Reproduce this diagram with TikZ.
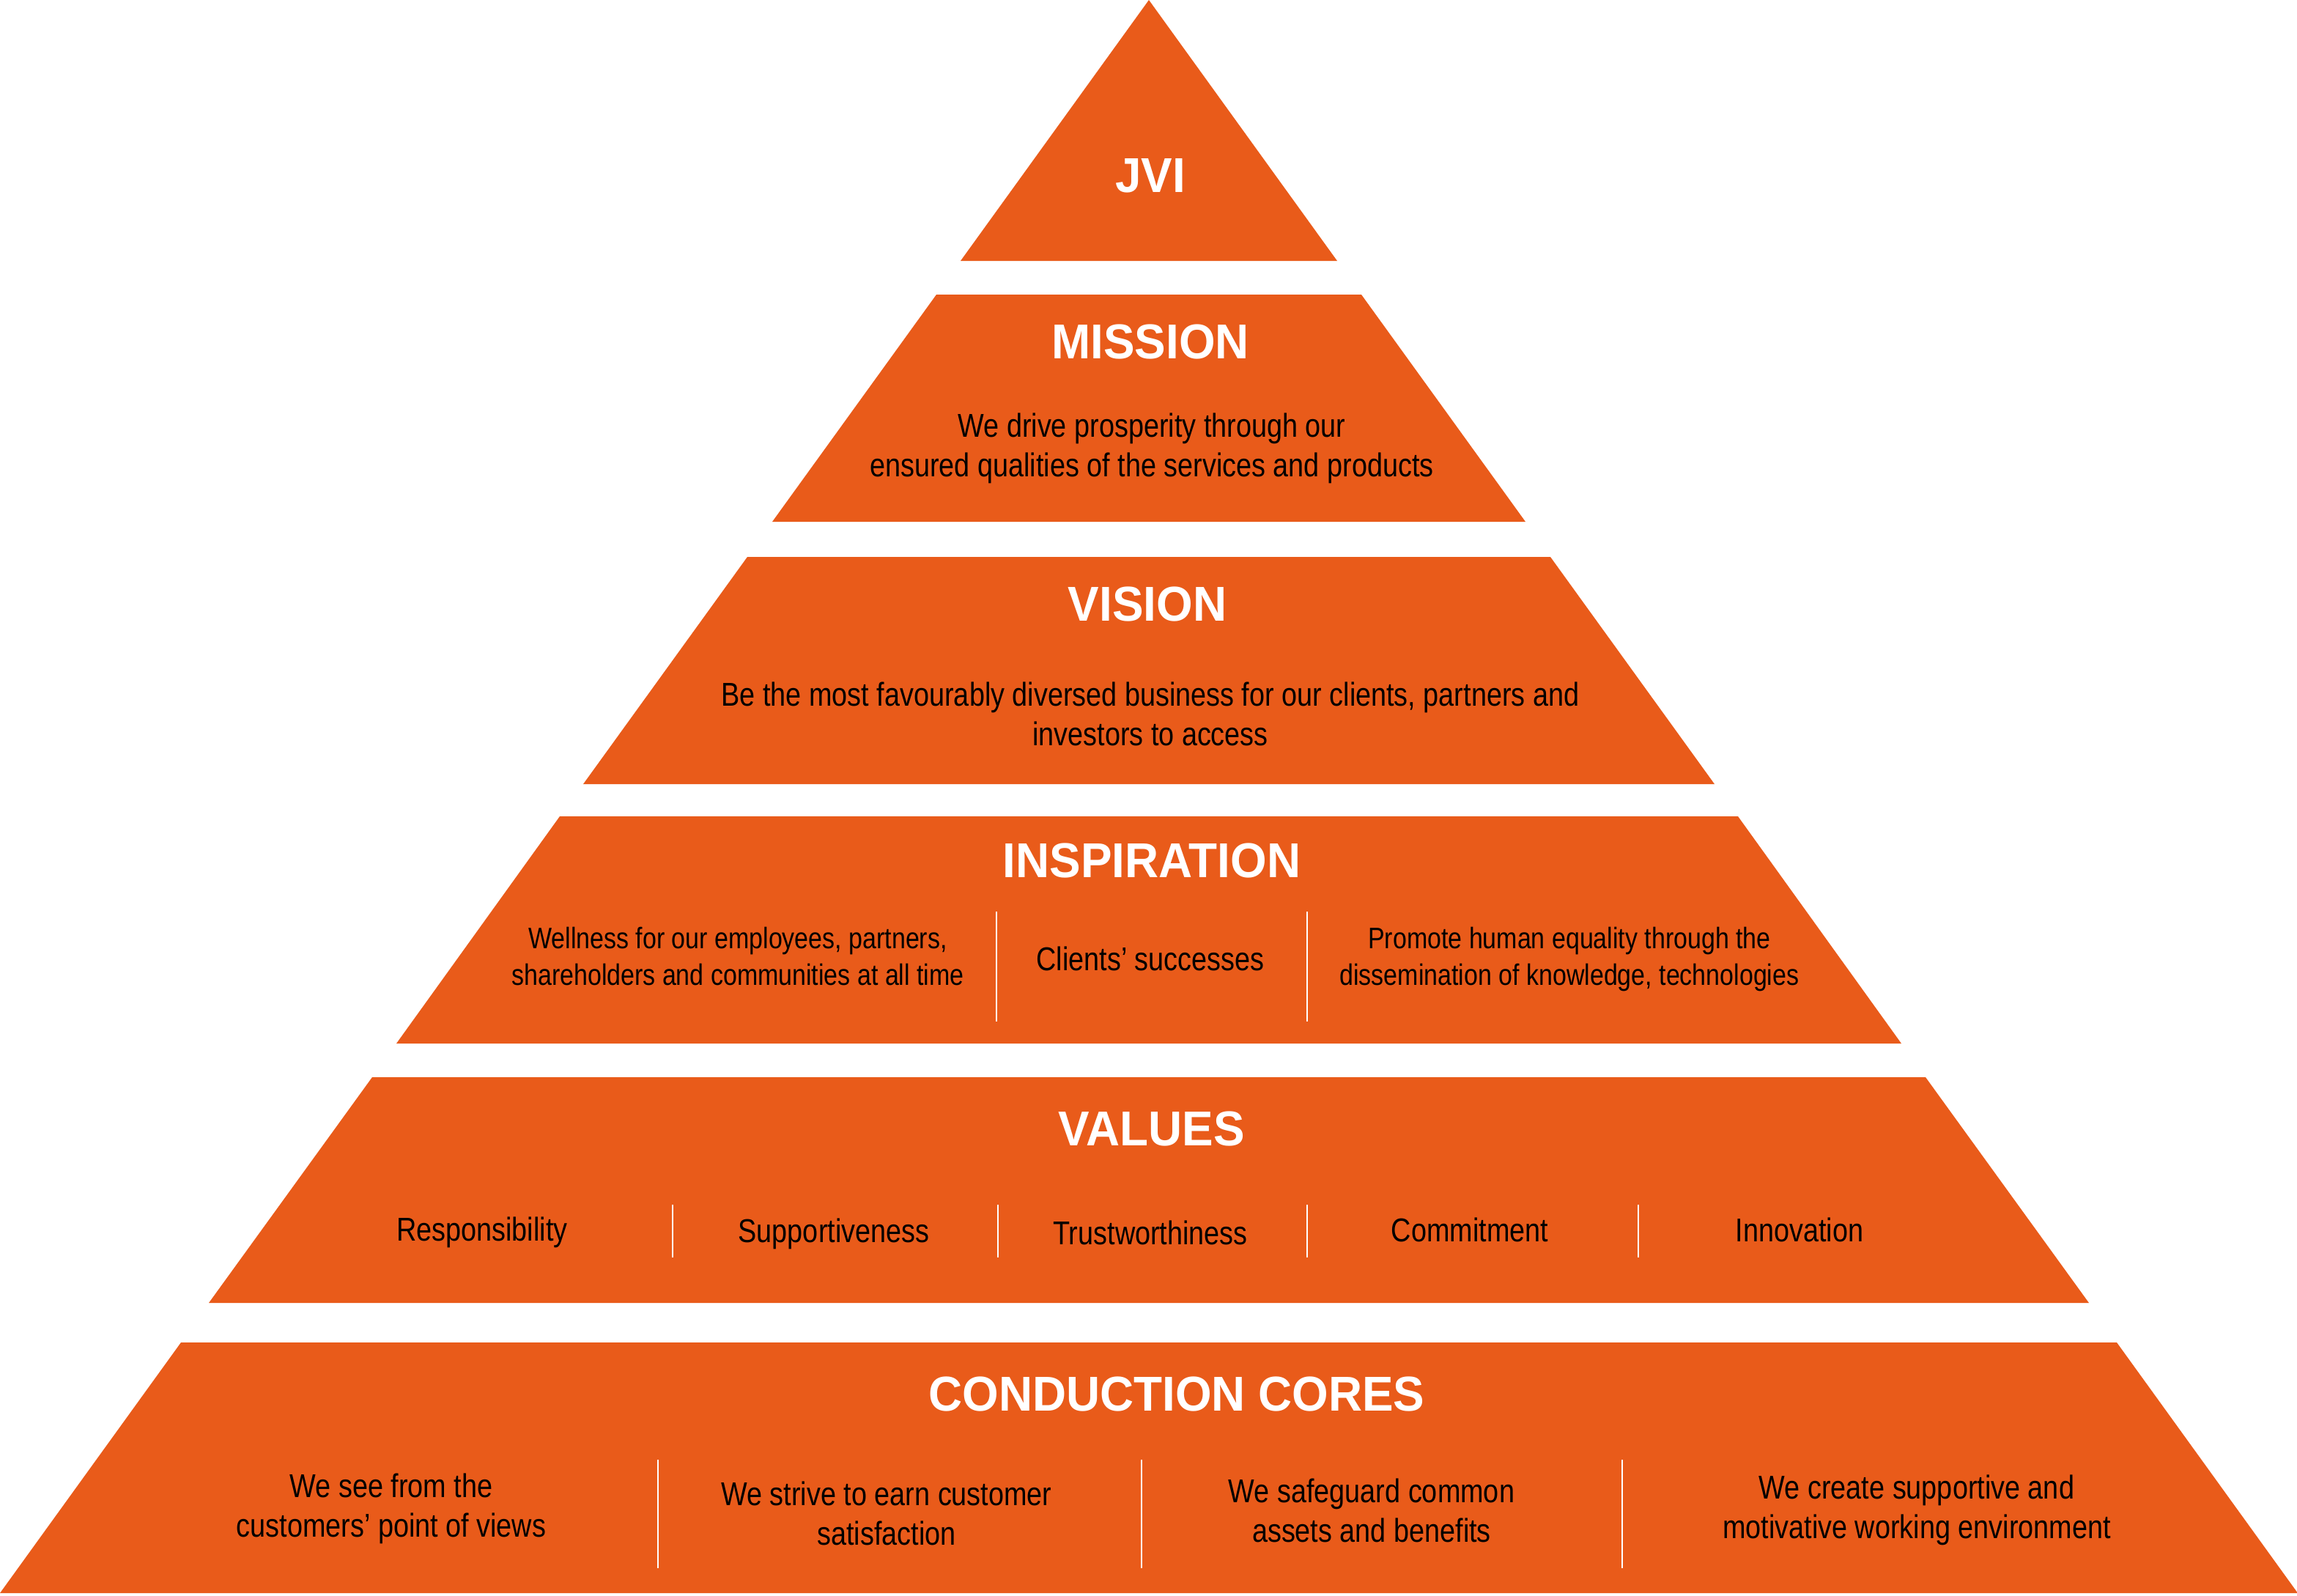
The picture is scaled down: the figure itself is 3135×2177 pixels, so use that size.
\documentclass[tikz,border=0pt]{standalone}
\usepackage{fontspec}
\setmainfont{Liberation Sans}
\newfontfamily\bodyfont{Liberation Sans}[FakeStretch=0.84]
\newfontfamily\headfont{Liberation Sans}[FakeStretch=0.955]
\usepackage{tikz}
\usepackage{xcolor}
\definecolor{pyrorange}{RGB}{233,91,26}
\tikzset{
  layer/.style={fill=pyrorange,draw=none},
  title/.style={font=\headfont\bfseries\fontsize{19}{23}\selectfont,text=white,inner sep=0pt},
  body/.style={font=\bodyfont\fontsize{12.8}{15.4}\selectfont,align=center,inner sep=0pt,text=black},
  smallbody/.style={body,font=\bodyfont\fontsize{11.5}{14.2}\selectfont},
  divider/.style={draw=white,line width=0.6pt}
}

\begin{document}
\begin{tikzpicture}[x=0.01cm,y=-0.01cm]
  \useasboundingbox (0,0) rectangle (3135,2177);

  % --- Pyramid layers (slices of one triangle) ---
  \fill[layer] (1568,0) -- (1825,356) -- (1311,356) -- cycle;
  \fill[layer] (1278,402) -- (1858,402) -- (2082,712) -- (1054,712) -- cycle;
  \fill[layer] (1020,760) -- (2116,760) -- (2340,1070) -- (796,1070) -- cycle;
  \fill[layer] (764,1114) -- (2372,1114) -- (2595,1424) -- (541,1424) -- cycle;
  \fill[layer] (508,1470) -- (2628,1470) -- (2851,1778) -- (285,1778) -- cycle;
  \fill[layer] (247,1832) -- (2889,1832) -- (3136,2174) -- (0,2174) -- cycle;

  % --- Titles ---
  \node[title] (jvi)     at (1570,240)  {JVI};
  \node[title] (mission) at (1570,466)  {MISSION};
  \node[title] (vision)  at (1566,824)  {VISION};
  \node[title] (inspire) at (1572,1174) {INSPIRATION};
  \node[title] (values)  at (1572,1540) {VALUES};
  \node[title] (cores)   at (1606,1902) {CONDUCTION CORES};

  % --- Mission and vision ---
  \node[body] (missiontxt) at (1572,612) {We drive prosperity through our\\ensured qualities of the services and products};
  \node[body] (visiontxt)  at (1570,974) {Be the most favourably diversed business for our clients, partners and\\investors to access};

  % --- Inspiration ---
  \node[smallbody] (insp1) at (1007,1305) {Wellness for our employees, partners,\\shareholders and communities at all time};
  \node[body]      (insp2) at (1570,1308) {Clients’ successes};
  \node[smallbody] (insp3) at (2142,1309) {Promote human equality through the\\dissemination of knowledge, technologies};
  \draw[divider] (1360,1244) -- (1360,1394);
  \draw[divider] (1784,1244) -- (1784,1394);

  % --- Values ---
  \node[body] (val1) at (658,1682)  {Responsibility};
  \node[body] (val2) at (1138,1684) {Supportiveness};
  \node[body] (val3) at (1570,1682) {Trustworthiness};
  \node[body] (val4) at (2006,1678) {Commitment};
  \node[body] (val5) at (2456,1678) {Innovation};
  \draw[divider] (918,1644) -- (918,1716);
  \draw[divider] (1362,1644) -- (1362,1716);
  \draw[divider] (1784,1644) -- (1784,1716);
  \draw[divider] (2236,1644) -- (2236,1716);

  % --- Conduction cores ---
  \node[body] (core1) at (534,2059)  {We see from the\\customers’ point of views};
  \node[body] (core2) at (1210,2065) {We strive to earn customer\\satisfaction};
  \node[body] (core3) at (1872,2061) {We safeguard common\\assets and benefits};
  \node[body] (core4) at (2616,2061) {We create supportive and\\motivative working environment};
  \draw[divider] (898,1992) -- (898,2140);
  \draw[divider] (1558,1992) -- (1558,2140);
  \draw[divider] (2214,1992) -- (2214,2140);
\end{tikzpicture}
\end{document}
